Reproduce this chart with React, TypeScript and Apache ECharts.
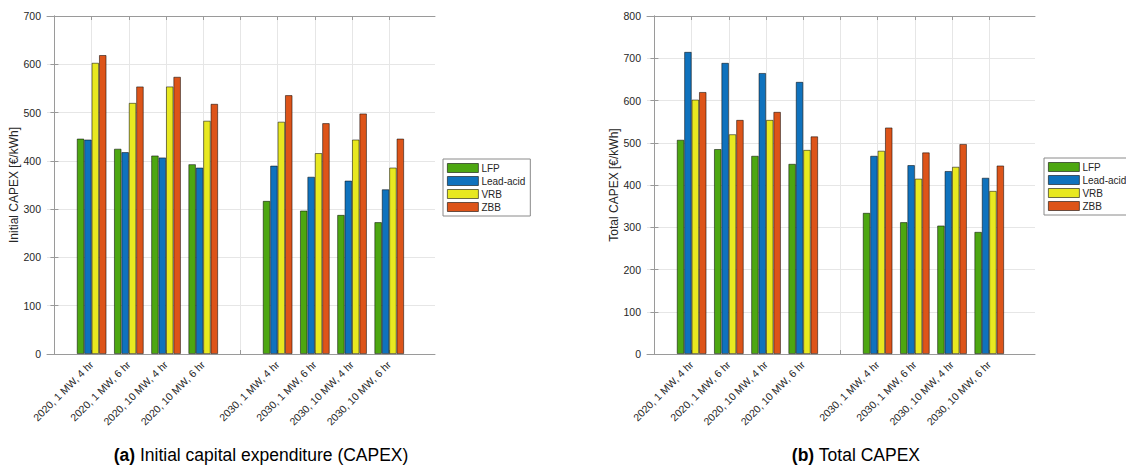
import React, { useEffect, useRef } from "react";
import * as echarts from "echarts";

const categories = [
  "2020, 1 MW, 4 hr",
  "2020, 1 MW, 6 hr",
  "2020, 10 MW, 4 hr",
  "2020, 10 MW, 6 hr",
  "2030, 1 MW, 4 hr",
  "2030, 1 MW, 6 hr",
  "2030, 10 MW, 4 hr",
  "2030, 10 MW, 6 hr",
];
const technologies = ["LFP", "Lead-acid", "VRB", "ZBB"];
const colors = ["#4da711", "#0f72bd", "#e8e820", "#dd5419"];

// (a) Initial CAPEX
const initialLFP = [446, 425, 411, 393, 317, 297, 288, 273];
const initialLead = [444, 418, 407, 386, 390, 367, 359, 341];
const initialVRB = [603, 520, 554, 483, 481, 416, 444, 386];
const initialZBB = [619, 554, 574, 518, 536, 478, 498, 446];

// (b) Total CAPEX
const totalLFP = [507, 485, 469, 450, 334, 312, 304, 289];
const totalLead = [715, 689, 665, 644, 469, 447, 433, 417];
const totalVRB = [602, 520, 554, 483, 481, 415, 443, 386];
const totalZBB = [620, 554, 573, 515, 536, 477, 497, 446];

const yTicksA = [0, 100, 200, 300, 400, 500, 600, 700];
const yTicksB = [0, 100, 200, 300, 400, 500, 600, 700, 800];

const FONT = "'Liberation Sans', Arial, Helvetica, sans-serif";
const FRAME = "#9a9a9a";

// category slots: a blank slot separates 2020 and 2030
const positions = categories.map((_, i) => (i < 4 ? i + 1 : i + 2));
const tickSlots = [1, 2, 3, 4, 5, 6, 7, 8, 9];

export default function App() {
  const ref = useRef<HTMLDivElement>(null);
  useEffect(() => {
    if (!ref.current) return;
    const chart = echarts.init(ref.current, undefined, { renderer: "svg" });

    const grids = [
      { left: 47, top: 16, width: 388, height: 338 },
      { left: 647, top: 16, width: 388, height: 338 },
    ];
    const xMin = -0.2;
    const xMax = 10.23;

    const xAxes: any[] = [];
    const yAxes: any[] = [];
    [0, 1].forEach((g) => {
      xAxes.push({
        type: "value",
        gridIndex: g,
        position: "bottom",
        min: xMin,
        max: xMax,
        axisLine: { show: true, onZero: false, lineStyle: { color: FRAME, width: 1 } },
        axisTick: { show: true, inside: true, length: 4, customValues: tickSlots, lineStyle: { color: FRAME } },
        splitLine: { show: true, lineStyle: { color: "#e6e6e6", width: 1 } },
        axisLabel: {
          show: true,
          customValues: positions,
          rotate: 45,
          fontSize: 10.5,
          fontFamily: FONT,
          color: "#262626",
          margin: 9,
          formatter: (v: number) => {
            const idx = positions.indexOf(Math.round(v));
            return idx >= 0 ? categories[idx] : "";
          },
        },
      });
      xAxes.push({
        type: "value",
        gridIndex: g,
        position: "top",
        min: xMin,
        max: xMax,
        axisLine: { show: true, onZero: false, lineStyle: { color: FRAME, width: 1 } },
        axisTick: { show: true, inside: true, length: 4, customValues: tickSlots, lineStyle: { color: FRAME } },
        splitLine: { show: false },
        axisLabel: { show: false },
      });
      const ticks = g === 0 ? yTicksA : yTicksB;
      const yMax = ticks[ticks.length - 1];
      yAxes.push({
        type: "value",
        gridIndex: g,
        position: "left",
        min: 0,
        max: yMax,
        interval: 100,
        name: g === 0 ? "Initial CAPEX [€/kWh]" : "Total CAPEX [€/kWh]",
        nameLocation: "middle",
        nameGap: 24,
        nameTextStyle: { fontSize: 12, fontFamily: FONT, color: "#262626" },
        axisLine: { show: true, lineStyle: { color: FRAME, width: 1 } },
        axisTick: { show: true, inside: true, length: 4, lineStyle: { color: FRAME } },
        splitLine: { show: true, lineStyle: { color: "#e6e6e6", width: 1 } },
        axisLabel: { fontSize: 10.5, fontFamily: FONT, color: "#262626", margin: 6 },
      });
      yAxes.push({
        type: "value",
        gridIndex: g,
        position: "right",
        min: 0,
        max: yMax,
        interval: 100,
        axisLine: { show: true, lineStyle: { color: FRAME, width: 1 } },
        axisTick: { show: true, inside: true, length: 4, lineStyle: { color: FRAME } },
        splitLine: { show: false },
        axisLabel: { show: false },
      });
    });

    const dataA = [initialLFP, initialLead, initialVRB, initialZBB];
    const dataB = [totalLFP, totalLead, totalVRB, totalZBB];
    const series: any[] = [];
    [dataA, dataB].forEach((set, g) => {
      set.forEach((vals, s) => {
        series.push({
          type: "bar",
          name: technologies[s],
          xAxisIndex: g * 2,
          yAxisIndex: g * 2,
          barWidth: 7.4,
          barGap: "0%",
          itemStyle: {
            color: colors[s],
            borderColor: "rgba(0,0,0,0.65)",
            borderWidth: 0.8,
          },
          data: vals.map((v, i) => [positions[i], v]),
        });
      });
    });

    const legendBase = {
      orient: "vertical",
      data: technologies,
      itemWidth: 31,
      itemHeight: 9,
      itemGap: 3,
      padding: [4, 5, 4, 4],
      borderColor: "#8a8a8a",
      borderWidth: 1,
      borderRadius: 0,
      backgroundColor: "#fff",
      icon: "rect",
      selectedMode: false,
      itemStyle: { borderColor: "rgba(0,0,0,0.7)", borderWidth: 0.8 },
      textStyle: { fontSize: 10, fontFamily: FONT, color: "#262626", padding: [0, 0, 0, -2] },
    };

    chart.setOption({
      animation: false,
      backgroundColor: "#fff",
      grid: grids,
      xAxis: xAxes,
      yAxis: yAxes,
      legend: [
        { ...legendBase, left: 443, top: 159 },
        { ...legendBase, left: 1044, top: 158 },
      ],
      series,
      graphic: [
        {
          type: "text",
          x: 261,
          y: 455,
          style: {
            text: "{b|(a)} Initial capital expenditure (CAPEX)",
            align: "center",
            verticalAlign: "middle",
            fontSize: 17.5,
            fontFamily: FONT,
            fill: "#000",
            rich: { b: { fontWeight: "bold", fontSize: 17.5, fontFamily: FONT } },
          },
        },
        {
          type: "text",
          x: 856,
          y: 455,
          style: {
            text: "{b|(b)} Total CAPEX",
            align: "center",
            verticalAlign: "middle",
            fontSize: 17.5,
            fontFamily: FONT,
            fill: "#000",
            rich: { b: { fontWeight: "bold", fontSize: 17.5, fontFamily: FONT } },
          },
        },
      ],
    });

    return () => chart.dispose();
  }, []);

  return (
    <div
      ref={ref}
      style={{ position: "fixed", left: 0, top: 0, width: 1126, height: 466, background: "#fff" }}
    />
  );
}
